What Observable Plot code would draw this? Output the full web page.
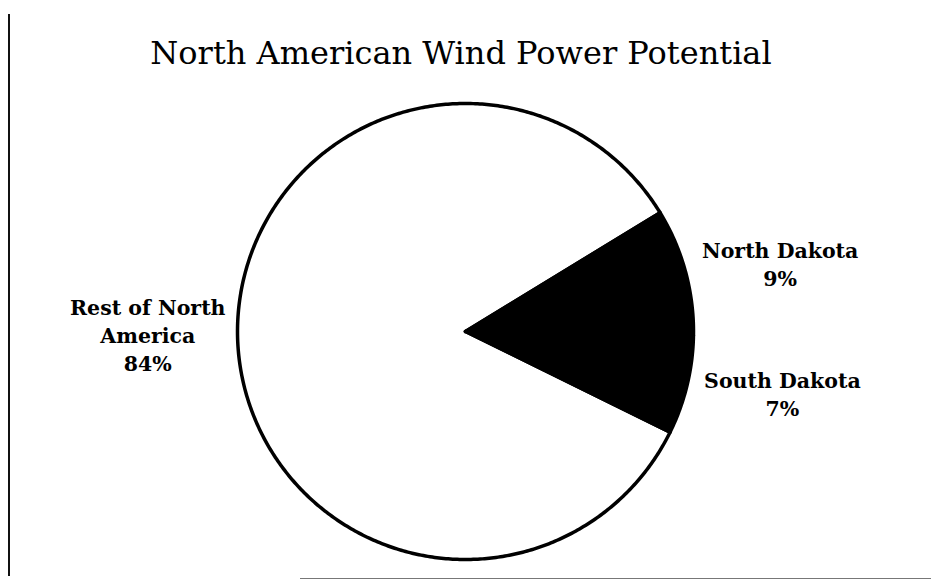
<!DOCTYPE html>
<html>
<head>
<meta charset="utf-8">
<script src="https://cdn.jsdelivr.net/npm/d3@7"></script>
<script src="https://cdn.jsdelivr.net/npm/@observablehq/plot@0.6"></script>
<style>
  html, body { margin: 0; padding: 0; background: #fff; }
  #chart { position: relative; width: 931px; height: 584px; }
  #chart::before { content: ""; position: absolute; left: 8px; top: 14px; width: 2px; height: 562px; background: #111; }
  #chart::after { content: ""; position: absolute; left: 300px; top: 578px; width: 631px; height: 1px; background: #777; }
</style>
</head>
<body>
<div id="chart"></div>
<script>
const title = "North American Wind Power Potential";
const categories = ["North Dakota", "South Dakota", "Rest of North America"];
const labels = ["North Dakota\n9%", "South Dakota\n7%", "Rest of North\nAmerica\n84%"];
const values = [9, 7, 84];
const fills = ["#000", "#000", "#fff"];

const W = 931, H = 584, cx = 465, cy = 331, R = 228;
const startDeg = 58.6;

const pie = d3.pie().sort(null).value(d => d.value).startAngle(startDeg * Math.PI / 180).endAngle(startDeg * Math.PI / 180 + 2 * Math.PI);
const rows = categories.map((c, i) => ({category: c, label: labels[i], value: values[i], fill: fills[i]}));
const arcs = pie(rows);

// Build slice outlines (unit radius) from pie angles
const slicePts = [];
for (const a of arcs) {
  const n = Math.max(2, Math.ceil((a.endAngle - a.startAngle) / 0.01));
  slicePts.push({cat: a.data.category, fill: a.data.fill, x: 0, y: 0});
  for (let k = 0; k <= n; k++) {
    const t = a.startAngle + (a.endAngle - a.startAngle) * k / n;
    slicePts.push({cat: a.data.category, fill: a.data.fill, x: Math.sin(t), y: Math.cos(t)});
  }
  slicePts.push({cat: a.data.category, fill: a.data.fill, x: 0, y: 0});
}
const labelRx = 1.43, labelRy = 1.15;
const labelPts = arcs.map(a => {
  const m = (a.startAngle + a.endAngle) / 2;
  return {cat: a.data.category, label: a.data.label, x: labelRx * Math.sin(m), y: labelRy * Math.cos(m)};
});

const order = ["Rest of North America", "North Dakota", "South Dakota"];
const labelStyle = {x: "x", y: "y", text: "label", fontFamily: "DejaVu Serif", fontWeight: "bold", fontSize: 20.5, lineHeight: 1.36, fill: "#000"};
const chart = Plot.plot({
  width: W, height: H,
  margin: 0,
  x: {domain: [-cx / R, (W - cx) / R], range: [0, W], axis: null},
  y: {domain: [-(H - cy) / R, cy / R], range: [H, 0], axis: null},
  marks: [
    Plot.line(slicePts.filter(d => d.cat === order[0]), {x: "x", y: "y", z: "cat", fill: "fill", stroke: "#000", strokeWidth: 3.5, curve: "linear"}),
    Plot.line(slicePts.filter(d => d.cat !== order[0]), {x: "x", y: "y", z: "cat", fill: "fill", stroke: "#000", strokeWidth: 3.5, curve: "linear"}),
    Plot.text(labelPts.filter(d => d.cat !== order[0]), {...labelStyle}),
    Plot.text(labelPts.filter(d => d.cat === order[0]), {...labelStyle, dx: 8, dy: -9}),
    Plot.text([title], {frameAnchor: "top", dy: 41, dx: -5, text: d => d, fontFamily: "DejaVu Serif", fontSize: 32, fill: "#000"})
  ]
});
document.getElementById("chart").appendChild(chart);
</script>
</body>
</html>
